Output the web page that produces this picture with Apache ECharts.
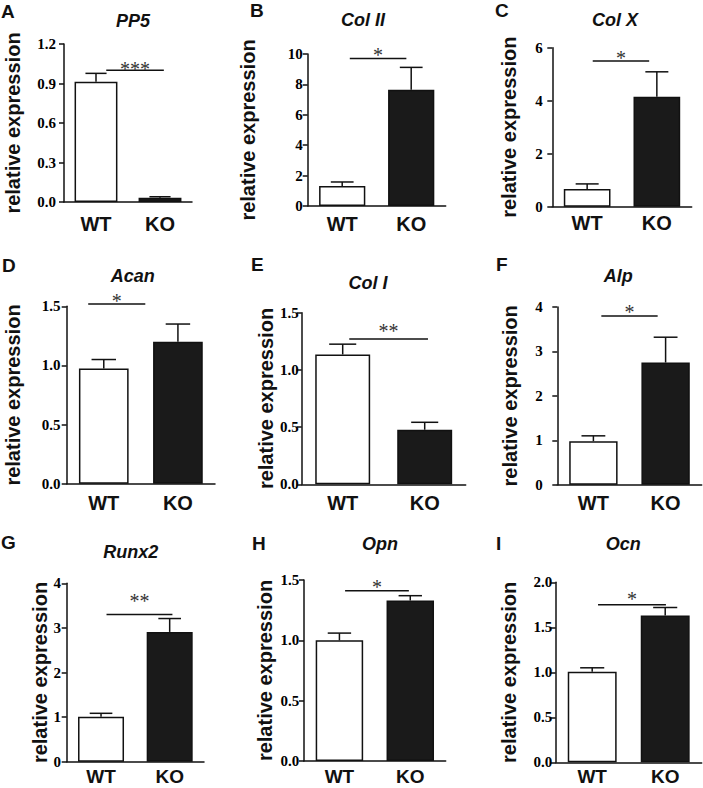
<!DOCTYPE html>
<html>
<head>
<meta charset="utf-8">
<script src="https://cdn.jsdelivr.net/npm/echarts@6/dist/echarts.min.js"></script>
<style>html,body{margin:0;padding:0;background:#fff}#c{width:703px;height:788px}</style>
</head>
<body>
<div id="c"></div>
<script>
// ---- data ----
const panelLetters = ['A','B','C','D','E','F','G','H','I'];
const genes = ['PP5','Col II','Col X','Acan','Col I','Alp','Runx2','Opn','Ocn'];
const categories = ['WT','KO'];
const wtMean = [0.913, 1.32, 0.67, 0.975, 1.135, 0.98, 1.01, 1.0, 1.005];
const wtErr  = [0.064, 0.26, 0.19, 0.075, 0.09, 0.12, 0.075, 0.06, 0.045];
const koMean = [0.033, 7.65, 4.15, 1.2, 0.477, 2.75, 2.91, 1.33, 1.63];
const koErr  = [0.007, 1.47, 0.94, 0.15, 0.065, 0.57, 0.3, 0.04, 0.09];
const sigLabels = ['***','*','*','*','**','*','**','*','*'];
const sigY = [1.0, 9.7, 5.5, 1.52, 1.27, 3.8, 3.3, 1.41, 1.75];
const sigFrom = [0.16, 0.11, 0.08, -0.21, 0.08, 0.11, 0.08, 0.08, 0.08];
const sigTo = [1.06, 0.93, 0.89, 0.56, 1.04, 0.89, 1.04, 0.98, 1.01];
const yMax = [1.2, 10, 6, 1.5, 1.5, 4, 4, 1.5, 2];
const yInterval = [0.3, 2, 2, 0.5, 0.5, 1, 1, 0.5, 0.5];
const yDecimals = [1, 0, 0, 1, 1, 0, 0, 1, 1];

// ---- layout (pixels) ----
const gLeft   = [64, 307.7, 552.3, 66.7, 301.7, 557.3, 66.7, 304, 555.7];
const gRight  = [192, 445.7, 691.7, 215, 465.7, 701.7, 204, 445.7, 701.7];
const gTop    = [44, 54, 47.7, 306.3, 312.7, 307, 583.3, 580, 582.3];
const gBottom = [202, 206, 206.7, 483.7, 484.3, 484.7, 761.7, 761, 762.3];
const nameGap = [40.7, 49.4, 33.3, 43.7, 18.9, 37.3, 14.2, 28.7, 36.5];
const yLabelMargin = [8, 5, 9.6, 6.3, 3, 14.6, 5.7, 4.7, 3.5];
const xLabelMargin = [15, 11, 9, 12, 12, 11, 8, 8, 7.5];
const xLabelSize = [20, 20, 20, 20, 20, 20, 19, 19, 19];
const starOffset = [5, 7.5, 7, 7, 12, 7.5, 18, 8, 10];
const titlePos = [[133,20.5],[363,20],[615,20],[132.7,276],[368,283],[618.3,275.5],[130.7,551.5],[380,544],[623.3,544]];
const letterPos = [[1,11.5],[250,10],[495,10.3],[2,265],[251,264],[496,264],[1,542.5],[252,543.5],[496,543.5]];

const INK = '#111';
const SERIF = '"Liberation Serif", "Times New Roman", serif';
const SANS = '"Liberation Sans", Arial, sans-serif';
const grids = [], xAxes = [], yAxes = [], series = [], graphics = [];

for (let i = 0; i < 9; i++) {
  grids.push({left: gLeft[i], top: gTop[i], width: gRight[i]-gLeft[i], height: gBottom[i]-gTop[i], containLabel: false, outerBoundsMode: 'none'});
  xAxes.push({
    type: 'category', gridIndex: i, data: categories,
    axisLine: {lineStyle: {color: INK, width: 1.5}},
    axisTick: {alignWithLabel: true, length: 5, lineStyle: {color: INK, width: 1.5}},
    axisLabel: {fontFamily: SANS, fontWeight: 'bold', fontSize: xLabelSize[i], lineHeight: 14, color: INK, margin: xLabelMargin[i]}
  });
  const dec = yDecimals[i];
  yAxes.push({
    type: 'value', gridIndex: i, min: 0, max: yMax[i], interval: yInterval[i],
    name: 'relative expression', nameLocation: 'middle', nameGap: nameGap[i], nameRotate: 90,
    nameTextStyle: {fontFamily: SANS, fontWeight: 'bold', fontSize: 20, color: INK},
    axisLine: {show: true, lineStyle: {color: INK, width: 1.5}},
    axisTick: {show: true, length: 5, lineStyle: {color: INK, width: 1.5}},
    splitLine: {show: false},
    axisLabel: {fontFamily: SERIF, fontWeight: 'bold', fontSize: 15, color: '#000', margin: yLabelMargin[i],
      formatter: v => v.toFixed(dec)}
  });
  series.push({
    type: 'bar', xAxisIndex: i, yAxisIndex: i, barWidth: '67%', z: 2,
    data: [
      {value: wtMean[i], itemStyle: {color: '#fff', borderColor: INK, borderWidth: 1.5}},
      {value: koMean[i], itemStyle: {color: '#1a1a1a', borderColor: INK, borderWidth: 1.5}}
    ]
  });
  series.push({
    type: 'custom', xAxisIndex: i, yAxisIndex: i, z: 3,
    data: [[0, wtMean[i], wtErr[i]], [1, koMean[i], koErr[i]]],
    renderItem: (params, api) => {
      const x = api.value(0), m = api.value(1), e = api.value(2);
      const p0 = api.coord([x, m]), p1 = api.coord([x, m + e]);
      const band = api.size([1, 0])[0];
      const half = band * 0.165;
      return {type: 'group', children: [
        {type: 'line', shape: {x1: p0[0], y1: p0[1], x2: p1[0], y2: p1[1]}, style: {stroke: INK, lineWidth: 1.5}},
        {type: 'line', shape: {x1: p1[0]-half, y1: p1[1], x2: p1[0]+half, y2: p1[1]}, style: {stroke: INK, lineWidth: 1.5}}
      ]};
    }
  });
  const idx = i;
  series.push({
    type: 'custom', xAxisIndex: i, yAxisIndex: i, z: 3,
    data: [[0, sigY[i]]],
    renderItem: (params, api) => {
      const y = api.value(1);
      const a = api.coord([0, y]), b = api.coord([1, y]);
      const dx = b[0] - a[0];
      const x1 = a[0] + sigFrom[idx]*dx, x2 = a[0] + sigTo[idx]*dx;
      return {type: 'group', children: [
        {type: 'line', shape: {x1: x1, y1: a[1], x2: x2, y2: a[1]}, style: {stroke: INK, lineWidth: 1.5}},
        {type: 'text', x: (x1+x2)/2, y: a[1] - starOffset[idx] + 4,
          style: {text: sigLabels[idx], fill: '#333', fontFamily: SERIF, fontSize: 20, fontWeight: 'normal', textAlign: 'center', textVerticalAlign: 'middle'}}
      ]};
    }
  });
  graphics.push({type: 'text', x: titlePos[i][0], y: titlePos[i][1],
    style: {text: genes[i], fill: INK, fontFamily: SANS, fontStyle: 'italic', fontWeight: 'bold', fontSize: 18, textAlign: 'center', textVerticalAlign: 'middle'}});
  graphics.push({type: 'text', x: letterPos[i][0], y: letterPos[i][1],
    style: {text: panelLetters[i], fill: INK, fontFamily: SANS, fontWeight: 'bold', fontSize: 19, textAlign: 'left', textVerticalAlign: 'middle'}});
}

const chart = echarts.init(document.getElementById('c'), null, {renderer: 'svg'});
chart.setOption({
  animation: false,
  backgroundColor: '#fff',
  grid: grids, xAxis: xAxes, yAxis: yAxes, series: series, graphic: graphics
});
</script>
</body>
</html>
